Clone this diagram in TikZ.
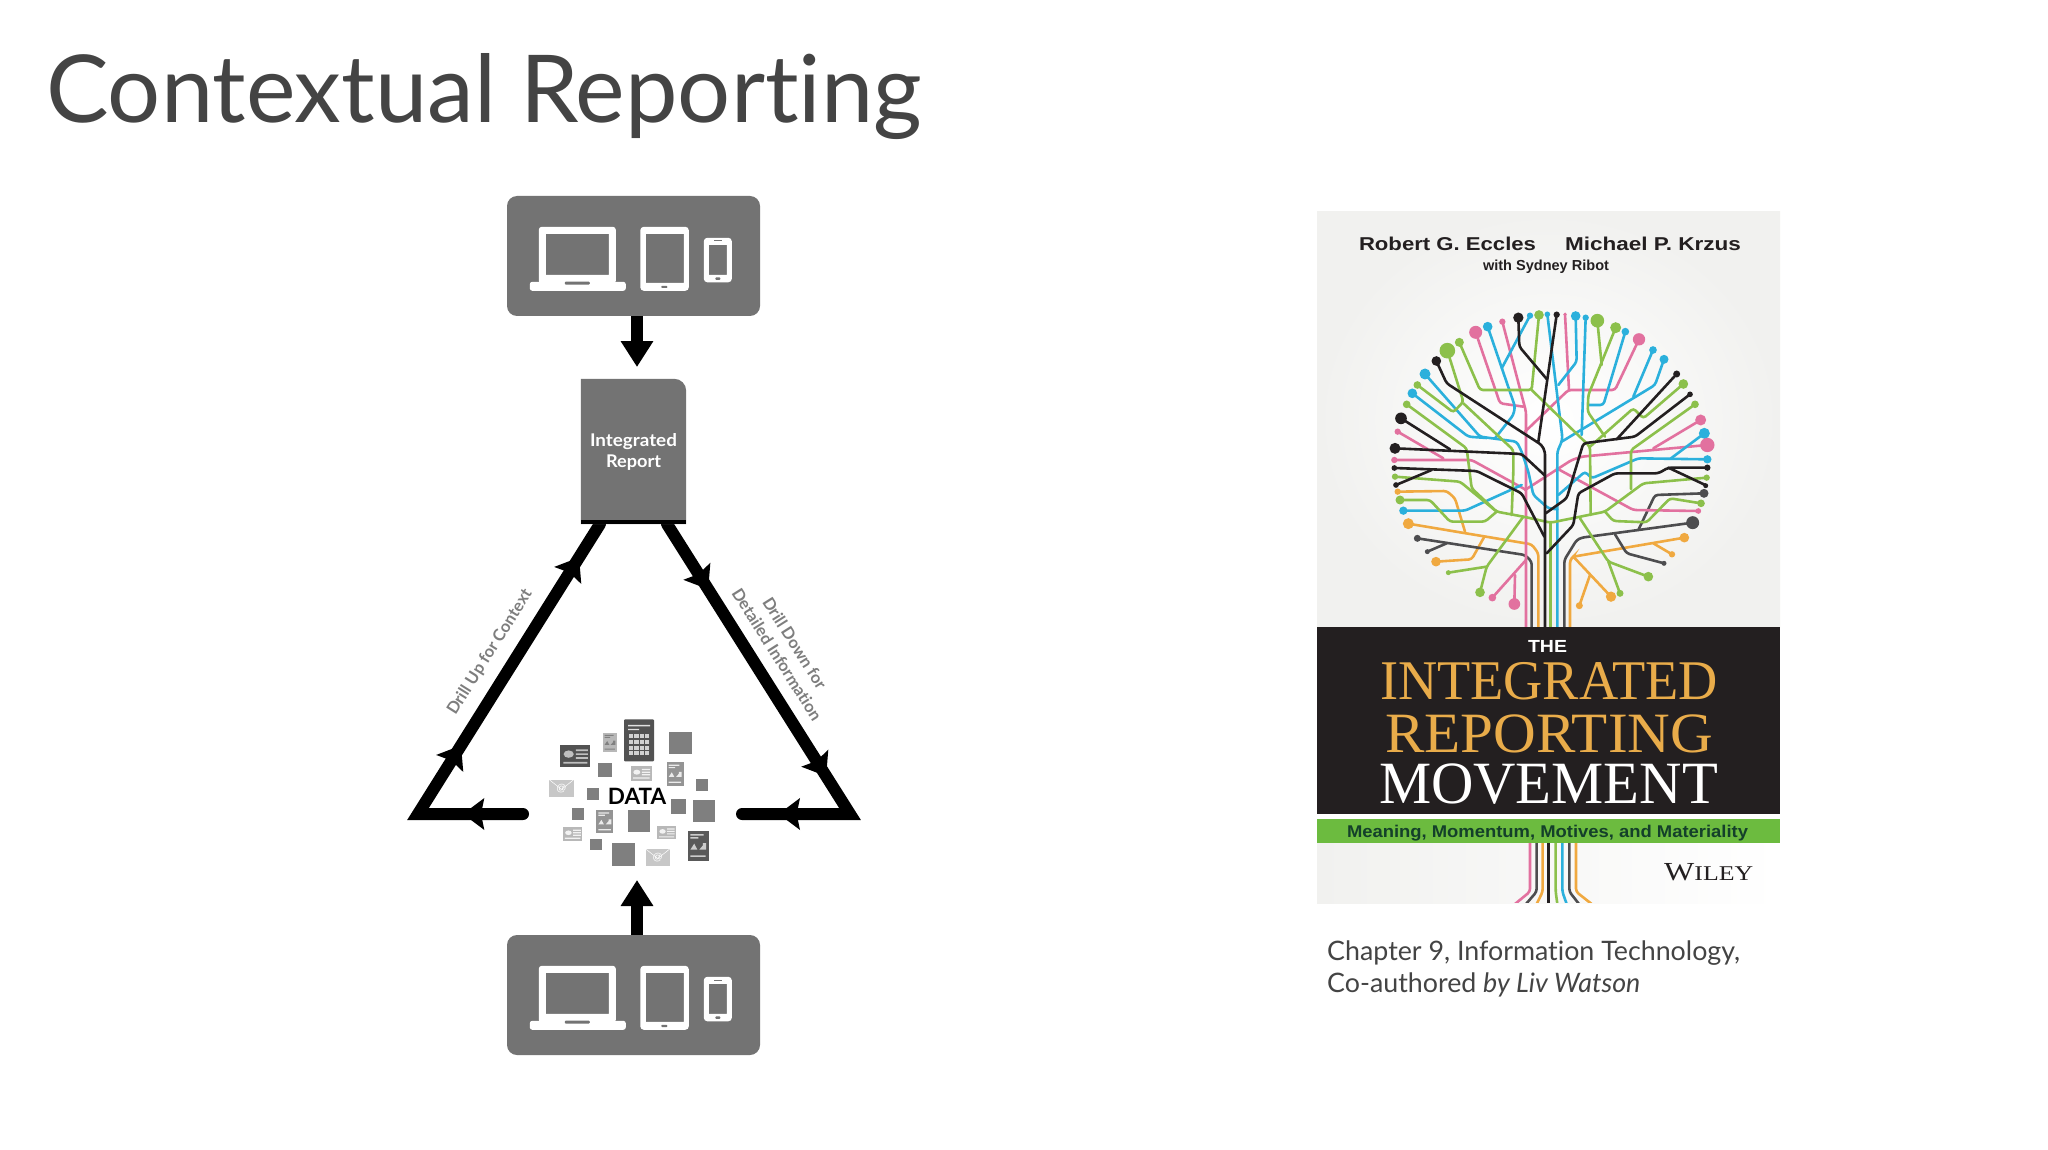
\documentclass[tikz,border=0pt]{standalone}
\usepackage{fontspec}
\setmainfont[Ligatures=NoCommon]{Lato}
\newfontfamily\tnr{Liberation Serif}
\newfontfamily\arl{Liberation Sans}
\usetikzlibrary{arrows.meta,decorations.markings,calc,backgrounds}
\definecolor{boxgray}{HTML}{737373}
\definecolor{titlegray}{HTML}{444444}
\definecolor{labgray}{HTML}{7E7E7E}
\definecolor{sqgray}{HTML}{7F7F7F}
\definecolor{tblack}{HTML}{231F20}
\definecolor{tblue}{HTML}{2BB0DC}
\definecolor{tpink}{HTML}{E2719F}
\definecolor{tgreen}{HTML}{8CC04B}
\definecolor{torange}{HTML}{F0A940}
\definecolor{tgray}{HTML}{4D4D4F}
\definecolor{bandgold}{HTML}{E9AC4A}
\definecolor{barGreen}{HTML}{6CBB3F}
\definecolor{barText}{HTML}{14402A}
\definecolor{coveredge}{HTML}{F1F1EF}
\newcommand\fs[2]{\fontsize{#1pt}{#2pt}\selectfont}
\newcommand\fitw[2]{\resizebox{#1pt}{\height}{#2}}
% data icons: x y w h bg fg
\newcommand\icard[6]{\begin{scope}[shift={(#1,#2)},x=#3pt,y=-#4pt]
 \fill[#5] (0,0) rectangle (1,1);
 \fill[#6] (.28,.42) circle[radius=.17];
 \fill[#6] (.52,.2) rectangle (.92,.28) (.52,.38) rectangle (.92,.46) (.52,.56) rectangle (.92,.64) (.1,.78) rectangle (.9,.86);
\end{scope}}
\newcommand\idoc[6]{\begin{scope}[shift={(#1,#2)},x=#3pt,y=-#4pt]
 \fill[#5] (0,0) rectangle (1,1);
 \fill[#6] (.12,.1) rectangle (.75,.15) (.12,.2) rectangle (.5,.25) (.12,.82) rectangle (.85,.87);
 \fill[#6] (.12,.62) -- (.3,.42) -- (.45,.62) -- cycle (.55,.62) -- (.72,.48) -- (.72,.4) -- (.88,.4) -- (.88,.62) -- cycle;
\end{scope}}
\newcommand\imail[4]{\begin{scope}[shift={(#1,#2)},x=#3pt,y=-.72pt*#3]
 \fill[black!22] (0,0) rectangle (1,1);
 \draw[white,line width=.5pt] (0,0) -- (.5,.55) -- (1,0);
 \node[text=white,inner sep=0pt,font=\arl\fs{10}{10}] (#4) at (.5,.5) {@};
\end{scope}}
\tikzset{
 x=1pt,y=-1pt,
 devbox/.style={fill=boxgray,rounded corners=10pt,minimum width=253pt,minimum height=120pt,inner sep=0pt},
 flow/.style={line width=12.5pt,-{Triangle[length=26pt,width=31pt]}},
 tri/.style={line width=12pt,line cap=round,line join=miter,>={Stealth[length=21pt,width=31pt,inset=3pt]},postaction={decorate}},
 head/.style={decoration={markings,#1}},
 twig/.style={line width=2.6pt,rounded corners=3pt,line cap=round},
 square/.style={fill=sqgray},
 drill/.style={text=labgray,inner sep=0pt,align=center},
 devices/.pic={
  \fill[white,even odd rule] [rounded corners=3pt] (32,31) rectangle (109,88) [sharp corners] (39,38) rectangle (102,79);
  \fill[white,rounded corners=2.5pt] (23,86) rectangle (119,95);
  \fill[boxgray,rounded corners=1pt] (58,85.8) rectangle (83,88.8);
  \fill[white,even odd rule] [rounded corners=3.5pt] (133.5,31) rectangle (182,95) [sharp corners] (139,38) rectangle (177,87);
  \fill[boxgray,rounded corners=.8pt] (154.5,90) rectangle (160.5,92.2);
  \fill[white,even odd rule] [rounded corners=3.5pt] (197,42) rectangle (225,86.5) [sharp corners] (202,49) rectangle (220,79);
  \fill[boxgray] (207,44.7) rectangle (215,45.7);
  \fill[boxgray,rounded corners=.8pt] (208.5,81.6) rectangle (213.5,84);
 }
}
\begin{document}
\begin{tikzpicture}
\useasboundingbox (0,0) rectangle (2048,1150);

\node[anchor=base west,inner sep=0pt,text=titlegray,font=\fs{93.7}{100}] (title) at (46,122.5) {Contextual Reporting};

% ---------- left diagram ----------
\node[devbox] (devtop) at (633.5,256) {};
\pic at (devtop.north west) {devices};
\node[devbox] (devbot) at (633.5,995) {};
\pic at (devbot.north west) {devices};

\node[inner sep=0pt,minimum width=105pt,minimum height=145pt,align=center,text=white,font=\bfseries\fs{17.5}{21}] (report) at (633.5,451.5) {\raisebox{9pt}{\parbox{105pt}{\centering \fitw{87}{Integrated}\\\fitw{55}{Report}}}};

\node[inner sep=0pt,font=\bfseries\fs{22.5}{24}] (data) at (637,796) {DATA};

\coordinate (lcorner) at (418,814);
\coordinate (rcorner) at (850,814);
\coordinate (lstart) at (523,814);
\coordinate (rend) at (742,814);
\coordinate (toptip) at (637,367);
\coordinate (botstart) at (637,935);
\coordinate (bottip) at (637,880);

\begin{scope}[on background layer]
 \fill[white] (0,0) rectangle (2048,1150);
 \draw[tri,head={mark=at position 60pt with {\arrow{>}},mark=at position 186pt with {\arrow{>}},mark=at position 408pt with {\arrow{>}}}] (lstart) -- (lcorner) -- ($(report.south west)!0.181!(report.south east)$);
 \draw[tri,head={mark=at position 77pt with {\arrow{>}},mark=at position 298pt with {\arrow{>}},mark=at position 414pt with {\arrow{>}}}] ($(report.south west)!0.819!(report.south east)$) -- (rcorner) -- (rend);
 \fill[boxgray] (report.north west) [rounded corners=12pt] -- (report.north east) [sharp corners] -- (report.south east) -- (report.south west) -- cycle;
 \fill[black] ($(report.south west)+(0,-4)$) rectangle (report.south east);
 \draw[flow] (toptip |- devtop.south) -- (toptip);
 \draw[flow] (botstart) -- (bottip);
\end{scope}

\node[drill,rotate=57.9,font=\bfseries\fontsize{16.5}{21}\selectfont] (up) at (490,652) {Drill Up for Context};
\node[drill,rotate=-57.7,font=\bfseries\fontsize{16.5}{21}\selectfont] (down) at (786,649) {Drill Down for\\Detailed Information};

% data cluster squares
\fill[square] (669.3,732) rectangle (692.3,754.3);
\fill[square] (597.7,762.7) rectangle (611.7,776.7);
\fill[square] (586.7,788) rectangle (598.7,800);
\fill[square] (696,778.7) rectangle (708,790.7);
\fill[square] (671,799) rectangle (686,813.7);
\fill[square] (692.7,799.7) rectangle (715.3,822.3);
\fill[square] (572.3,808.3) rectangle (584,820);
\fill[square] (627.7,809.7) rectangle (650.3,832.3);
\fill[square] (590.3,838.7) rectangle (602,850);
\fill[square] (612,843) rectangle (635,865.7);
% calculator
\begin{scope}[shift={(624,719.3)}]
 \fill[black!68,rounded corners=1pt] (0,0) rectangle (30,42);
 \fill[black!12] (4,5.5) rectangle (26,7) (4,9.5) rectangle (15,10.8);
 \foreach \c in {0,1,2,3}{\foreach \r in {0,1,2,3}{\fill[black!18] ({5+\c*5.3},{15+\r*5.6}) rectangle ({9.3+\c*5.3},{19+\r*5.6});}}
\end{scope}
\icard{560.3}{745}{30}{21.7}{black!68}{black!25}
\idoc{603}{733}{14}{19}{black!28}{black!50}
\icard{631}{766}{20.7}{14.7}{black!28}{black!5}
\idoc{666.7}{762.3}{17}{23.7}{black!42}{black!8}
\imail{549.3}{779.7}{24.4}{mailA}
\idoc{596.3}{810}{17}{23.3}{black!42}{black!8}
\icard{563}{827}{19.3}{13.7}{black!28}{black!5}
\icard{657.3}{825.7}{18.7}{13.6}{black!28}{black!5}
\idoc{688}{831.3}{20.7}{29.4}{black!65}{black!20}
\imail{645.7}{849}{24}{mailB}

% ---------- book cover ----------
\shade[inner color=white,outer color=coveredge] (1317,212) rectangle (1780,627);
\shade[left color=coveredge,right color=white] (1317,843) rectangle (1780,903);

\begin{scope}[shift={(1300,200)},x=.33333pt,y=-.33333pt]
 % roots below the bar
 \begin{scope}
  \clip (51,1920) rectangle (1440,2109);
  \draw[twig,tpink] (690,1925) -- (690,2075) -- (645,2112);
  \draw[twig,tgray] (710,1925) -- (710,2075) -- (678,2112);
  \draw[twig,torange] (728,1925) -- (728,2075) -- (710,2112);
  \draw[twig,tblack] (745,1925) -- (745,2112);
  \draw[twig,tgreen] (767,1925) -- (767,2075) -- (772,2112);
  \draw[twig,tblue] (787,1925) -- (787,2075) -- (800,2112);
  \draw[twig,tgray] (808,1925) -- (808,2075) -- (837,2112);
  \draw[twig,torange] (828,1925) -- (828,2075) -- (875,2112);
 \end{scope}
 % orange
 \draw[twig,torange] (293,875) -- (440,873) -- (465,895) -- (495,995);
 \draw[twig,torange] (325,971) -- (695,1033) -- (715,1060) -- (715,1283);
 \draw[twig,torange] (553,1010) -- (515,1078) -- (408,1085);
 \draw[twig,torange] (1153,1013) -- (820,1070) -- (810,1080) -- (810,1283);
 \draw[twig,torange] (1060,1030) -- (1116,1063);
 \draw[twig,torange] (820,1070) -- (933,1190);
 \draw[twig,torange] (870,1125) -- (838,1217);
 % gray
 \draw[twig,tgray] (352,1015) -- (675,1065) -- (695,1085) -- (695,1283);
 \draw[twig,tgray] (382,1055) -- (440,1030);
 \draw[twig,tgray] (1178,968) -- (845,1013) -- (830,1020) -- (793,1080) -- (793,1283);
 \draw[twig,tgray] (945,1003) -- (980,1060) -- (1092,1090);
 \draw[twig,tgray] (1015,990) -- (1065,885) -- (1212,880);
 % pink
 \draw[twig,tpink] (527,397) -- (600,610) -- (670,620);
 \draw[twig,tpink] (607,365) -- (670,605) -- (678,635) -- (678,1283);
 \draw[twig,tpink] (293,695) -- (430,775);
 \draw[twig,tpink] (283,780) -- (515,780) -- (675,868);
 \draw[twig,tpink] (675,695) -- (805,570) -- (945,570) -- (1017,418);
 \draw[twig,tpink] (795,343) -- (807,570);
 \draw[twig,tpink] (1202,660) -- (1060,745);
 \draw[twig,tpink] (1222,735) -- (845,770) -- (815,780) -- (675,870);
 \draw[twig,tpink] (770,805) -- (1000,930) -- (1195,933);
 \draw[twig,tpink] (678,1080) -- (577,1193);
 \draw[twig,tpink] (645,1125) -- (643,1212);
 % blue
 \draw[twig,tblue] (375,522) -- (540,710) -- (650,725) -- (665,755) -- (685,815) -- (700,885) -- (745,925) -- (772,928);
 \draw[twig,tblue] (337,580) -- (505,710) -- (560,714);
 \draw[twig,tblue] (563,380) -- (645,620) -- (640,645) -- (585,715);
 \draw[twig,tblue] (690,347) -- (605,505);
 \draw[twig,tblue] (742,343) -- (787,712) -- (785,725) -- (772,755) -- (772,1283);
 \draw[twig,tblue] (827,348) -- (830,485) -- (775,555);
 \draw[twig,tblue] (857,353) -- (845,705);
 \draw[twig,tblue] (976,395) -- (910,615) -- (865,615);
 \draw[twig,tblue] (785,725) -- (1065,555) -- (1092,478);
 \draw[twig,tblue] (1000,590) -- (1059,450);
 \draw[twig,tblue] (1213,700) -- (1113,775);
 \draw[twig,tblue] (1222,778) -- (1015,775) -- (875,835) -- (855,815) -- (775,885);
 \draw[twig,tblue] (310,932) -- (495,932) -- (665,855);
 % green
 \draw[twig,tgreen] (442,452) -- (490,605) -- (460,637) -- (352,555);
 \draw[twig,tgreen] (490,610) -- (640,750) -- (640,815) -- (635,945);
 \draw[twig,tgreen] (478,427) -- (540,570) -- (695,570) -- (717,345);
 \draw[twig,tgreen] (695,570) -- (870,740) -- (872,945);
 \draw[twig,tgreen] (320,613) -- (500,745) -- (515,865) -- (590,935);
 \draw[twig,tgreen] (285,830) -- (480,845) -- (590,935) -- (670,950) -- (752,968) -- (915,935) -- (1030,850) -- (1220,833);
 \draw[twig,tgreen] (300,900) -- (390,900) -- (450,965) -- (555,965) -- (590,935);
 \draw[twig,tgreen] (670,950) -- (560,1100) -- (540,1177);
 \draw[twig,tgreen] (560,1100) -- (445,1118);
 \draw[twig,tgreen] (840,955) -- (925,1085) -- (1045,1130);
 \draw[twig,tgreen] (925,1085) -- (960,1180);
 \draw[twig,tgreen] (915,935) -- (940,963) -- (1040,967) -- (1110,895) -- (1203,910);
 \draw[twig,tgreen] (1185,613) -- (993,750) -- (993,867);
 \draw[twig,tgreen] (892,362) -- (905,495);
 \draw[twig,tgreen] (947,383) -- (865,585) -- (863,635) -- (915,710);
 \draw[twig,tgreen] (870,740) -- (1000,625) -- (1030,655) -- (1150,552);
 \draw[twig,tgreen] (752,968) -- (752,1283);
 % black
 \draw[twig,tblack] (409,483) -- (440,550) -- (725,735) -- (735,755) -- (735,1283);
 \draw[twig,tblack] (655,353) -- (658,440) -- (740,537);
 \draw[twig,tblack] (715,725) -- (770,344);
 \draw[twig,tblack] (285,745) -- (665,762) -- (733,825);
 \draw[twig,tblack] (303,655) -- (450,748);
 \draw[twig,tblack] (283,804) -- (530,813) -- (665,880) -- (733,1010);
 \draw[twig,tblack] (288,855) -- (395,810);
 \draw[twig,tblack] (740,1060) -- (820,975) -- (835,880) -- (945,820) -- (1075,820) -- (1105,803) -- (1222,803);
 \draw[twig,tblack] (1105,803) -- (1220,857);
 \draw[twig,tblack] (737,940) -- (800,895) -- (850,730) -- (1005,710) -- (1170,583);
 \draw[twig,tblack] (950,718) -- (1130,522);
 % dots
 \foreach \x/\y/\r in {409/483/13,655/353/14,770/344/8,285/745/15,303/655/16,283/804/7,288/855/7,1222/803/8,1217/857/6,1170/583/7,1130/522/9}{\fill[tblack] (\x,\y) circle[radius=\r+1.5];}
 \foreach \x/\y/\r in {375/522/15,337/580/13,563/380/13,690/347/8,742/343/7,827/348/13,857/353/8,976/395/10,1092/478/12,1059/450/10,1213/700/15,1222/778/11,310/932/11}{\fill[tblue] (\x,\y) circle[radius=\r+1.5];}
 \foreach \x/\y/\r in {527/397/18,607/365/8,293/695/8,283/780/8,1017/418/17,795/343/4,1202/660/15,1222/735/20,1195/933/7,577/1193/10,643/1212/16}{\fill[tpink] (\x,\y) circle[radius=\r+1.5];}
 \foreach \x/\y/\r in {442/452/22,352/555/10,478/427/12,717/345/13,320/613/10,285/830/8,300/900/12,540/1177/13,445/1118/6,1045/1130/13,960/1180/9,1203/910/10,1185/613/10,892/362/19,947/383/15,1150/552/13,1220/833/8}{\fill[tgreen] (\x,\y) circle[radius=\r+1.5];}
 \foreach \x/\y/\r in {293/875/8,325/971/15,408/1085/13,1153/1013/13,1116/1063/8,933/1190/14,838/1217/9}{\fill[torange] (\x,\y) circle[radius=\r+1.5];}
 \foreach \x/\y/\r in {352/1015/9,382/1055/6,1178/968/18,1092/1090/6,1212/880/12}{\fill[tgray] (\x,\y) circle[radius=\r+1.5];}
\end{scope}

\fill[tblack] (1317,627) rectangle (1780,814);
\fill[barGreen] (1317,819) rectangle (1780,843);

\node[anchor=base,inner sep=0pt,text=tblack,font=\arl\bfseries\fs{18.6}{20}] (auth1) at (1447.5,250.7) {\fitw{177}{Robert G. Eccles}};
\node[anchor=base,inner sep=0pt,text=tblack,font=\arl\bfseries\fs{18.6}{20}] (auth2) at (1653,250.7) {\fitw{176}{Michael P. Krzus}};
\node[anchor=base,inner sep=0pt,text=tblack,font=\arl\bfseries\fs{14.5}{16}] (auth3) at (1546,270.7) {\fitw{126}{with Sydney Ribot}};
\node[anchor=base,inner sep=0pt,text=white,font=\arl\bfseries\fs{17.5}{18}] (the) at (1547.5,652.7) {\fitw{39}{THE}};
\node[anchor=base,inner sep=0pt,text=bandgold,font=\tnr\fs{56}{58}] (bt1) at (1549,699) {\fitw{338}{INTEGRATED}};
\node[anchor=base,inner sep=0pt,text=bandgold,font=\tnr\fs{57}{58}] (bt2) at (1549,752) {\fitw{328}{REPORTING}};
\node[anchor=base,inner sep=0pt,text=white,font=\tnr\fs{60}{62}] (bt3) at (1548.5,803) {\fitw{339}{MOVEMENT}};
\node[anchor=base,inner sep=0pt,text=barText,font=\arl\bfseries\fs{17}{18}] (sub) at (1547.5,837.3) {\fitw{401}{Meaning, Momentum, Motives, and Materiality}};
\node[anchor=base west,inner sep=0pt,text=tblack,font=\tnr] (wiley) at (1664,880) {\fitw{89}{\fs{26}{28}W\fs{21}{28}ILEY}};

\node[anchor=base west,inner sep=0pt,text=titlegray,font=\fs{26.8}{32}] (cap1) at (1327,960) {Chapter 9, Information Technology,};
\node[anchor=base west,inner sep=0pt,text=titlegray,font=\fs{26.8}{32}] (cap2) at (1327,992.5) {Co-authored \textit{by Liv Watson}};
\end{tikzpicture}
\end{document}
